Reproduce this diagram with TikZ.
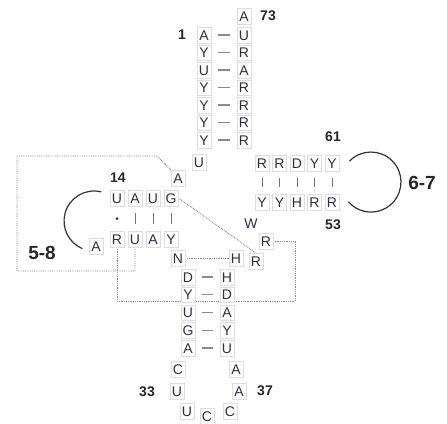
\documentclass[tikz,border=0pt]{standalone}
\usepackage{fontspec}
\setmainfont{Liberation Sans}
\usetikzlibrary{backgrounds,calc}
\definecolor{ntcol}{HTML}{2E2E48}
\definecolor{lblcol}{HTML}{262626}
\begin{document}
\begin{tikzpicture}[x=1pt,y=1pt,
  nt/.style={inner xsep=0pt, inner ysep=0pt, text width=14pt, align=center,
    text height=12.75pt, text depth=2.75pt, text=ntcol,
    font=\fontsize{14}{14}\selectfont, draw=black!13, fill=white, line width=0.5pt},
  bare/.style={inner sep=0pt, text=ntcol, font=\fontsize{14}{14}\selectfont},
  num/.style={inner sep=0pt, text=lblcol, font=\fontsize{14}{14}\selectfont\bfseries},
  big/.style={inner sep=0pt, text=lblcol, font=\fontsize{19}{19}\selectfont\bfseries},
  bond/.style={draw=black!45, line width=1.1pt, shorten <=7pt, shorten >=7pt},
  bar/.style={draw=black!55, line width=0.7pt, shorten <=7pt, shorten >=7pt},
  tert/.style={draw=black!45, line width=0.9pt, dash pattern=on 0.9pt off 0.9pt},
  loopline/.style={draw=black!80, line width=1.2pt}]

\useasboundingbox (0,0) rectangle (447,-423);

% acceptor stem
\node[nt] (a73) at (244,-16) {A};
\node[num] (n73) at (268,-16) {73};
\foreach \lt/\rt [count=\i] in {A/U,Y/R,U/A,Y/R,Y/R,Y/R,Y/R} {
  \node[nt] (a\i) at (204,{-35-17.5*(\i-1)}) {\lt};
  \node[nt] (b\i) at (244,{-35-17.5*(\i-1)}) {\rt};
  \draw[bond] (a\i) -- (b\i);
}
\node[num] (n1) at (182,-35) {1};

% connector between acceptor and D arm
\node[nt] (u8) at (199,-162) {U};
\node[nt] (a9) at (178,-178) {A};

% D stem
\foreach \tp/\bt/\x [count=\i] in {U/R/117,A/U/135,U/A/153,G/Y/171} {
  \node[nt] (d\i) at (\x,-198) {\tp};
  \node[nt] (e\i) at (\x,-239) {\bt};
}
\foreach \i in {2,3,4} { \draw[bar] (d\i) -- (e\i); }
\fill[ntcol] ($(d1)!0.5!(e1)$) circle (1.5pt);
\node[num] (n14) at (118,-178) {14};
\node[nt] (dla) at (96,-246) {A};
\coordinate (l58s) at (101.3,-191.9);
\draw[loopline] (l58s) arc[start angle=76, end angle=247, radius=30];
\node[big] (n58) at (42,-253) {5-8};

% anticodon stem
\node[nt] (nN) at (178,-258) {N};
\foreach \lt/\rt [count=\i] in {D/H,Y/D,U/A,G/Y,A/U} {
  \node[nt] (c\i) at (188,{-277-17.75*(\i-1)}) {\lt};
  \node[nt] (k\i) at (227,{-277-17.75*(\i-1)}) {\rt};
  \draw[bond] (c\i) -- (k\i);
}
% anticodon loop
\node[nt] (l1) at (178,-369) {C};
\node[nt] (l2) at (177,-391) {U};
\node[nt] (l3) at (187,-411) {U};
\node[nt] (l4) at (207,-416) {C};
\node[nt] (l5) at (230,-411) {C};
\node[nt] (l6) at (239,-391) {A};
\node[nt] (l7) at (236,-369) {A};
\node[num] (n33) at (147,-392) {33};
\node[num] (n37) at (265,-391) {37};

% variable region
\node[nt] (hH) at (236,-258) {H};
\node[nt] (rLo) at (256,-261) {R};
\node[nt] (rUp) at (266,-241) {R};
\node[bare] (wW) at (251,-224) {W};

% T stem
\foreach \tp/\bt/\x [count=\i] in {R/Y/262,R/Y/279.5,D/H/297,Y/R/314.5,Y/R/332} {
  \node[nt] (t\i) at (\x,-163) {\tp};
  \node[nt] (s\i) at (\x,-202) {\bt};
  \draw[bar] (t\i) -- (s\i);
}
\node[num] (n61) at (333,-137) {61};
\node[num] (n53) at (333,-225) {53};
\coordinate (l67s) at (349.4,-161.2);
\draw[loopline] (l67s) arc[start angle=136, end angle=-139, radius=30];
\node[big] (n67) at (422,-183) {6-7};

% tertiary interactions
\begin{scope}[on background layer]
  \coordinate (p1) at (157,-156);
  \coordinate (p2) at (17,-156);
  \coordinate (p3) at (17,-271);
  \coordinate (p4) at (295,-301);
  \draw[tert] (a9.north west) -- (p1) -- (p2) -- (p3) -| (e2.south);
  \draw[tert] (e1.south) |- (p4) |- (rUp.east);
  \draw[tert] (d4.east) -- (rLo.north);
  \draw[tert] (nN.east) -- (hH.west);
\end{scope}
\end{tikzpicture}
\end{document}
